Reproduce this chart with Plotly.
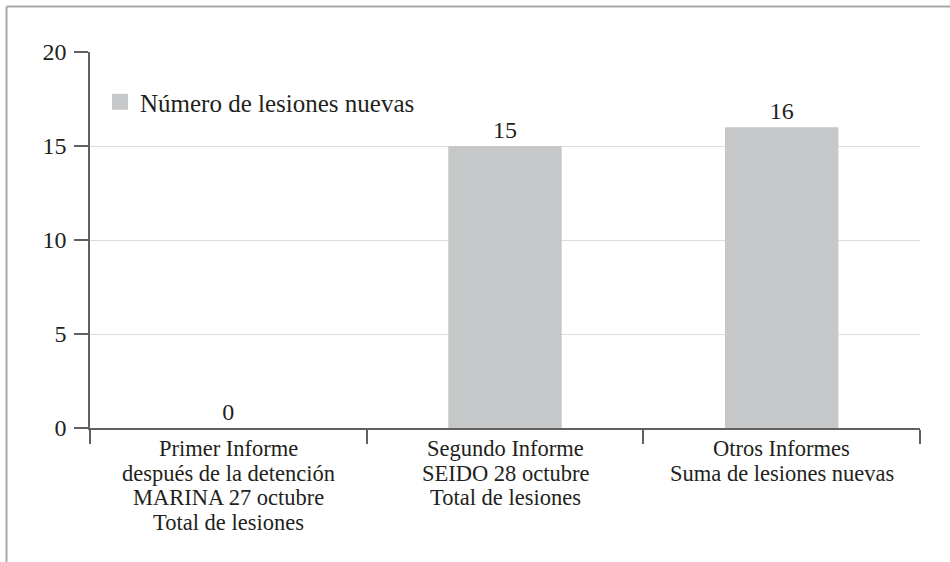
import plotly.graph_objects as go

categories = [
    "Primer Informe<br>después de la detención<br>MARINA 27 octubre<br>Total de lesiones",
    "Segundo Informe<br>SEIDO 28 octubre<br>Total de lesiones",
    "Otros Informes<br>Suma de lesiones nuevas",
]
values = [0, 15, 16]
series_name = "Número de lesiones nuevas"
y_ticks = [0, 5, 10, 15, 20]

W, H = 950, 562
L, R, T, B = 90, 30, 52, 134
pw, ph = W - L - R, H - T - B

font_family = "Liberation Serif, Times New Roman, serif"
txt = "#231f20"
bar_color = "#c6c7c8"
axis_color = "#5f6062"

fig = go.Figure()
fig.add_trace(go.Bar(
    x=categories, y=values, name=series_name, showlegend=False,
    marker=dict(color=bar_color, line=dict(width=0)),
    text=[str(v) for v in values], textposition="outside",
    textfont=dict(size=24, color=txt, family=font_family),
    cliponaxis=False, hoverinfo="skip",
))
# legend entry (square swatch)
fig.add_trace(go.Scatter(
    x=[None], y=[None], mode="markers", name=series_name,
    marker=dict(symbol="square", size=16, color=bar_color),
))

# multi-line category labels with tight line spacing
line_gap = 24.5
for cat in categories:
    for i, line in enumerate(cat.split("<br>")):
        fig.add_annotation(
            x=cat, y=0, xref="x", yref="y", text=line, showarrow=False,
            xanchor="center", yanchor="top", yshift=-7 - i * line_gap,
            borderpad=0,
            font=dict(size=22.5, color=txt, family=font_family),
        )

fig.update_layout(
    width=W, height=H,
    margin=dict(l=L, r=R, t=T, b=B),
    plot_bgcolor="white", paper_bgcolor="white",
    font=dict(family=font_family, size=24, color=txt),
    bargap=0.59,
    showlegend=True,
    legend=dict(x=(100 - L) / pw, y=(H - B - 79) / ph, xanchor="left", yanchor="top",
                bgcolor="rgba(0,0,0,0)", font=dict(size=25, color=txt, family=font_family),
                itemsizing="trace"),
    xaxis=dict(
        type="category", showline=True, linecolor=axis_color, linewidth=1.5,
        ticks="outside", tickson="boundaries", ticklen=14, tickcolor=axis_color, tickwidth=1.5,
        showticklabels=False, showgrid=False,
    ),
    yaxis=dict(
        range=[0, 20], tickvals=y_ticks, showline=True, linecolor=axis_color, linewidth=1.5,
        ticks="outside", ticklen=14, tickcolor=axis_color, tickwidth=1.5,
        showgrid=True, gridcolor="#dcdddd", gridwidth=1.2,
        tickfont=dict(size=24, color=txt, family=font_family),
        ticklabelstandoff=3,
        zeroline=False,
    ),
    shapes=[
        dict(type="line", xref="paper", yref="paper",
             x0=(6.5 - L) / pw, x1=(W - L) / pw, y0=(H - B - 6.5) / ph, y1=(H - B - 6.5) / ph,
             line=dict(color="#a7a9ac", width=2)),
        dict(type="line", xref="paper", yref="paper",
             x0=(6.5 - L) / pw, x1=(6.5 - L) / pw, y0=(H - B - 6.5) / ph, y1=-B / ph,
             line=dict(color="#a7a9ac", width=2)),
    ],
)

fig.write_html(
    "out.html",
    config={"displayModeBar": False},
    post_script="document.body.style.margin='0';document.body.style.padding='0';",
)
